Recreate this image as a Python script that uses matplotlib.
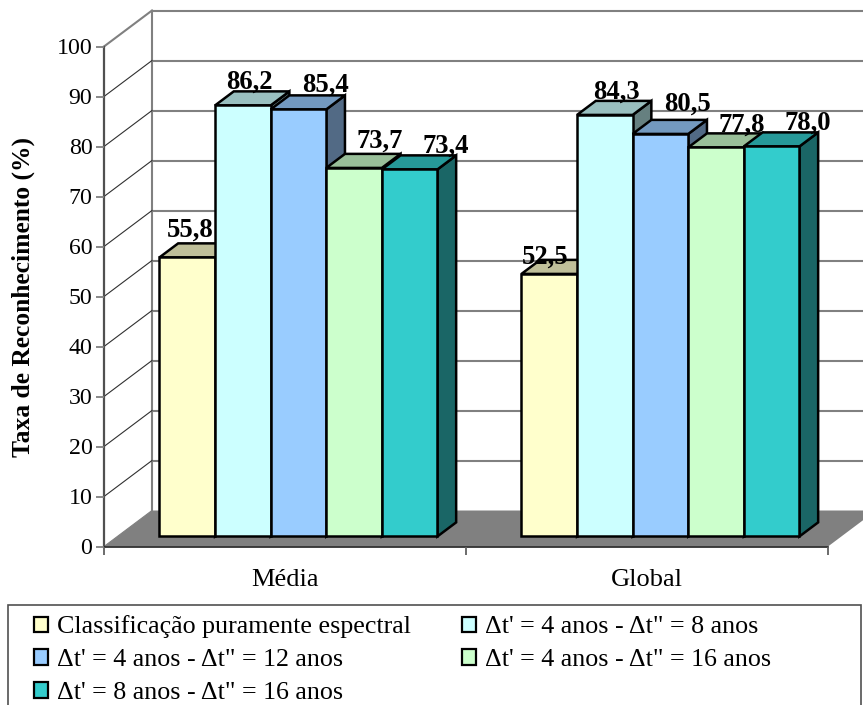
import matplotlib
matplotlib.use("Agg")
import matplotlib.pyplot as plt
from matplotlib.patches import Polygon, Rectangle, Patch

categories = ["Média", "Global"]
series_names = ["Classificação puramente espectral",
                "Δt' = 4 anos - Δt\" = 8 anos",
                "Δt' = 4 anos - Δt\" = 12 anos",
                "Δt' = 4 anos - Δt\" = 16 anos",
                "Δt' = 8 anos - Δt\" = 16 anos"]
media_values = [55.8, 86.2, 85.4, 73.7, 73.4]
global_values = [52.5, 84.3, 80.5, 77.8, 78.0]
y_ticks = list(range(0, 101, 10))

front_colors = ["#FFFFCC", "#CCFFFF", "#99CCFF", "#CCFFCC", "#33CCCC"]
top_colors = ["#BFBF99", "#99BFBF", "#7399BF", "#99BF99", "#269999"]
side_colors = ["#80806A", "#668080", "#526A85", "#668066", "#1A6666"]

# label offsets from the bar front top, in pixels
label_dx = [[2.5, 6.5, 27, 26, 36.5], [-4, 12, 27.5, 25.6, 36]]
label_dy = [[21, 17, 18, 20, 17], [10, 16, 23, 16, 17]]

W, H = 863, 705
fig = plt.figure(figsize=(W / 100, H / 100), dpi=100)
plt.rcParams['font.family'] = ['Liberation Serif', 'DejaVu Serif']
ax = fig.add_axes([104 / W, 1 - 546.5 / H, 724 / W, 500 / H])
ax.set_xlim(0, 2)
ax.set_ylim(0, 100)
ax.patch.set_visible(False)

DX = 48 / 362   # depth projection, x units
DY = 36 / 5     # depth projection, value units
bar_w = 55.6 / 362
d_front, d_back = 0.28, 0.67


def proj(x, y, d):
    return (x + d * DX, y + d * DY)


GRAY = "#808080"
# floor
ax.add_patch(Polygon([proj(0, 0, 0), proj(2, 0, 0), proj(2, 0, 1), proj(0, 0, 1)],
                     closed=True, fc=GRAY, ec="none", clip_on=False, zorder=1))
# walls
for v in y_ticks:
    if v > 0:
        xs, ys = zip(proj(0, v, 1), proj(2, v, 1))
        ax.plot(xs, ys, color=GRAY, lw=1.5, clip_on=False, zorder=1.2)
    xs, ys = zip(proj(0, v, 0), proj(0, v, 1))
    ax.plot(xs, ys, color=GRAY if v in (0, 100) else "#303030",
            lw=1.5 if v == 100 else 0.8, clip_on=False, zorder=1.3)
xs, ys = zip(proj(0, 0, 1), proj(0, 100, 1))
ax.plot(xs, ys, color=GRAY, lw=1.5, clip_on=False, zorder=1.2)

z = 2.0
for g, vals in enumerate([media_values, global_values]):
    x0 = g + 0.5 - 2.5 * bar_w
    for i, v in enumerate(vals):
        l, r = x0 + i * bar_w, x0 + (i + 1) * bar_w
        style = dict(closed=True, ec="black", lw=1.8, joinstyle="miter",
                     clip_on=False, zorder=z)
        ax.add_patch(Polygon([proj(r, 0, d_front), proj(r, 0, d_back),
                              proj(r, v, d_back), proj(r, v, d_front)],
                             fc=side_colors[i], **style))
        ax.add_patch(Polygon([proj(l, v, d_front), proj(r, v, d_front),
                              proj(r, v, d_back), proj(l, v, d_back)],
                             fc=top_colors[i], **style))
        ax.add_patch(Polygon([proj(l, 0, d_front), proj(r, 0, d_front),
                              proj(r, v, d_front), proj(l, v, d_front)],
                             fc=front_colors[i], **style))
        z += 0.01
for g, vals in enumerate([media_values, global_values]):
    x0 = g + 0.5 - 2.5 * bar_w
    for i, v in enumerate(vals):
        cx, cy = proj(x0 + (i + 0.5) * bar_w, v, d_front)
        ax.annotate(f"{v:.1f}".replace(".", ","), xy=(cx, cy),
                    xytext=(label_dx[g][i] * 0.72, label_dy[g][i] * 0.72),
                    textcoords="offset points", ha="center", va="baseline",
                    fontsize=19.2, fontweight="bold", color="black", zorder=5,
                    annotation_clip=False)

# axes
for s in ("top", "right"):
    ax.spines[s].set_visible(False)
ax.spines["left"].set_color("#505050")
ax.spines["left"].set_linewidth(1.6)
ax.spines["bottom"].set_color("#202020")
ax.spines["bottom"].set_linewidth(1.2)
ax.spines["left"].set_zorder(1.5)
ax.spines["bottom"].set_zorder(1.5)
ax.set_yticks(y_ticks)
ax.tick_params(axis="y", length=5.8, width=1.3, color=GRAY, pad=2.5, labelsize=17.2)
ax.set_xticks([0, 1, 2])
ax.set_xticklabels([])
ax.tick_params(axis="x", which="major", length=5.8, width=1.3, color="#606060")
ax.set_xticks([0.5, 1.5], minor=True)
ax.set_xticklabels(categories, minor=True)
ax.tick_params(axis="x", which="minor", length=0, pad=16.5, labelsize=19)
ax.set_ylabel("Taxa de Reconhecimento (%)", fontsize=18.4, fontweight="bold", va="center")
ax.yaxis.set_label_coords((23 - 104) / 724, (546.5 - 297) / 500)

# legend frame (runs off the bottom of the figure)
fig.add_artist(Rectangle((8 / W, -10 / H), 853 / W, (705 + 10 - 605) / H,
                         transform=fig.transFigure, fc="white", ec="#505050",
                         lw=1.2, zorder=0))
F = 18.7
handles = [Patch(fc=c, ec="black", lw=1.6) for c in front_colors]
order = [0, 2, 4, 1, 3]
leg = fig.legend([handles[i] for i in order], [series_names[i] for i in order],
                 ncol=2, loc="upper left", bbox_to_anchor=(34 / W, 1 - 615.5 / H),
                 frameon=False, fontsize=F, borderaxespad=0, borderpad=0,
                 handlelength=14 * 0.72 / F, handleheight=14 * 0.72 / F,
                 handletextpad=9 * 0.72 / F, labelspacing=0.42, columnspacing=1.95)
fig.savefig("out.png", dpi=100)
